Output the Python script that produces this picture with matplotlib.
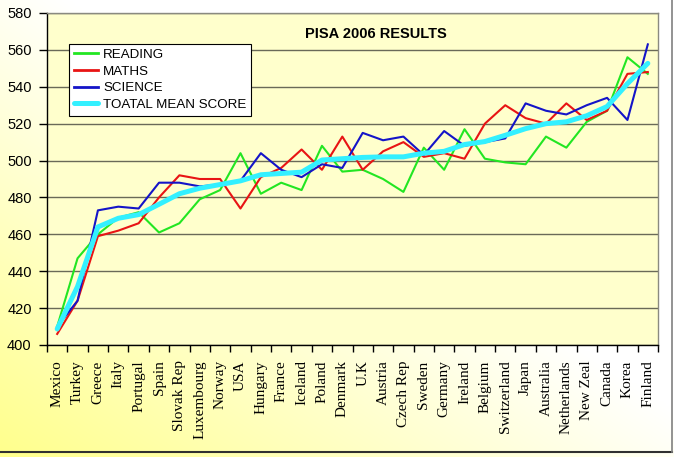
import numpy as np
import matplotlib
matplotlib.use("Agg")
import matplotlib.pyplot as plt
from matplotlib.lines import Line2D

# ---------------- DATA ----------------
countries = ["Mexico", "Turkey", "Greece", "Italy", "Portugal", "Spain",
             "Slovak Rep", "Luxembourg", "Norway", "USA", "Hungary", "France",
             "Iceland", "Poland", "Denmark", "U.K", "Austria", "Czech Rep",
             "Sweden", "Germany", "Ireland", "Belgium", "Switzerland", "Japan",
             "Australia", "Netherlands", "New Zeal", "Canada", "Korea", "Finland"]

reading = [410, 447, 460, 469, 472, 461, 466, 479, 484, 504, 482, 488,
           484, 508, 494, 495, 490, 483, 507, 495, 517, 501, 499, 498,
           513, 507, 521, 527, 556, 547]

maths = [406, 424, 459, 462, 466, 480, 492, 490, 490, 474, 491, 496,
         506, 495, 513, 495, 505, 510, 502, 504, 501, 520, 530, 523,
         520, 531, 522, 527, 547, 548]

science = [410, 424, 473, 475, 474, 488, 488, 486, 487, 489, 504, 495,
           491, 498, 496, 515, 511, 513, 503, 516, 508, 510, 512, 531,
           527, 525, 530, 534, 522, 563]

total_mean = [408.7, 431.7, 464.0, 468.7, 470.7, 476.3, 482.0, 485.0, 487.0, 489.0,
              492.3, 493.0, 493.7, 500.3, 501.0, 501.7, 502.0, 502.0, 504.0, 505.0,
              508.7, 510.3, 513.7, 517.3, 520.0, 521.0, 524.3, 529.3, 541.7, 552.7]

y_ticks = [400, 420, 440, 460, 480, 500, 520, 540, 560, 580]

# ---------------- FIGURE ----------------
fig = plt.figure(figsize=(6.74, 4.57), dpi=100)

# yellow -> white gradient behind everything
bg = fig.add_axes([0, 0, 1, 1], zorder=-10)
gx, gy = np.meshgrid(np.linspace(0, 1, 300), np.linspace(1, 0, 200))
amount = np.clip(1 - (gx + gy) / 1.1, 0, 1)[..., None]
yellow = np.array([1.0, 1.0, 0.55])
white = np.array([1.0, 1.0, 1.0])
bg.imshow(white * (1 - amount) + yellow * amount, aspect="auto",
          extent=[0, 1, 0, 1], interpolation="bilinear")
bg.set_xlim(0, 1)
bg.set_ylim(0, 1)
bg.axis("off")

ax = fig.add_axes([47 / 674, 1 - 345 / 457, 611 / 674, 332 / 457])
ax.set_facecolor("#FFFFCC")

x = np.arange(len(countries))
ax.plot(x, reading, color="#22E622", lw=1.5, label="READING", zorder=3)
ax.plot(x, maths, color="#E81414", lw=1.5, label="MATHS", zorder=3)
ax.plot(x, science, color="#1414C8", lw=1.5, label="SCIENCE", zorder=3)
ax.plot(x, total_mean, color="#33F0FF", lw=3.6, label="TOATAL MEAN SCORE",
        solid_joinstyle="round", solid_capstyle="round", zorder=4)

ax.set_xlim(-0.5, len(countries) - 0.5)
ax.set_ylim(400, 580)
ax.set_yticks(y_ticks)
ax.yaxis.grid(True, color="#6a6a58", lw=1.0, zorder=1)
ax.set_axisbelow(True)

for lbl in ax.get_yticklabels():
    lbl.set_fontfamily("Liberation Sans")
ax.tick_params(axis="y", direction="out", length=6, width=1, pad=5,
               labelsize=10.5, colors="black")

# country names in the middle, tick marks between them
ax.set_xticks(x)
ax.set_xticklabels(countries, rotation=90, family="Liberation Serif", fontsize=11,
                   va="top")
ax.set_xticks(np.arange(-0.5, len(countries)), minor=True)
ax.tick_params(axis="x", which="major", length=0, pad=11)
ax.tick_params(axis="x", which="minor", direction="out", length=5, width=1)

for side in ["left", "bottom"]:
    ax.spines[side].set_color("black")
    ax.spines[side].set_linewidth(1.0)
for side in ["top", "right"]:
    ax.spines[side].set_color("#8a8a80")
    ax.spines[side].set_linewidth(1.0)

ax.text(0.538, 0.937, "PISA 2006 RESULTS", transform=ax.transAxes, ha="center",
        va="center", fontsize=10.5, fontweight="bold", family="Liberation Sans")

leg = ax.legend(loc="upper left", bbox_to_anchor=(0.036, 0.907), borderaxespad=0,
                prop={"family": "Liberation Sans", "size": 9.6}, frameon=True,
                fancybox=False, edgecolor="black", facecolor="white", framealpha=1,
                handlelength=1.8, handletextpad=0.4, labelspacing=0.33,
                borderpad=0.35)
leg.get_frame().set_linewidth(0.8)
for h in leg.get_lines()[:3]:
    h.set_linewidth(2.0)

# chart border (only bottom and right are visible in the picture)
fig.add_artist(Line2D([0, 672 / 674], [1 - 452 / 457] * 2, color="#303030", lw=1.5))
fig.add_artist(Line2D([672 / 674] * 2, [1 - 452 / 457, 1], color="#808080", lw=1.2))

fig.savefig("out.png", dpi=100)
